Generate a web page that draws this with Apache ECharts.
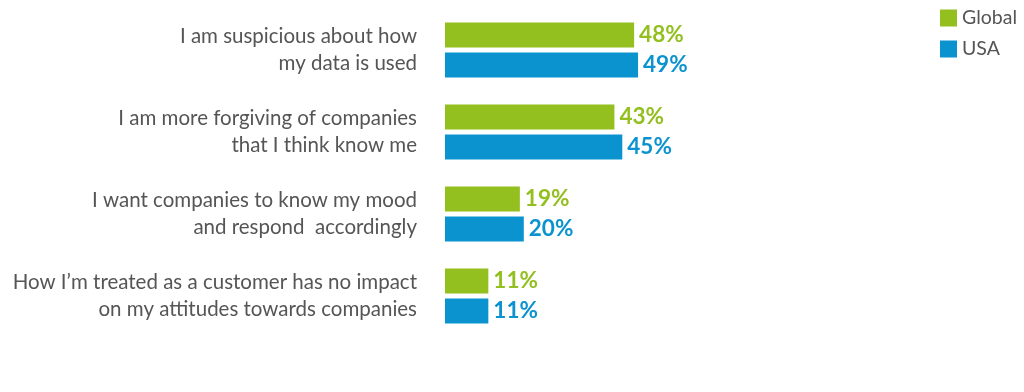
<!DOCTYPE html>
<html><head><meta charset="utf-8">
<script src="https://cdn.jsdelivr.net/npm/echarts@6/dist/echarts.min.js"></script>
<style>html,body{margin:0;padding:0;background:#fff}#c{width:1024px;height:392px}</style>
</head><body><div id="c"></div>
<script>
const categories = [
  "I am suspicious about how\nmy data is used",
  "I am more forgiving of companies\nthat I think know me",
  "I want companies to know my mood\nand respond  accordingly",
  "How I\u2019m treated as a customer has no impact\non my attitudes towards companies"
];
const globalValues = [48, 43, 19, 11];
const usaValues = [49, 45, 20, 11];
const seriesNames = ["Global", "USA"];
const GREEN = "#93bf1f", BLUE = "#0b93cf";
const chart = echarts.init(document.getElementById('c'));
function lbl(color){return {show:true,position:'right',distance:5,formatter:'{c}%',color:color,fontFamily:'Lato',fontWeight:'bold',fontSize:22.5};}
chart.setOption({
  animation:false,
  legend:{orient:'vertical',left:935,top:3,itemWidth:17,itemHeight:17,itemGap:11,icon:'rect',
    textStyle:{fontFamily:'Lato',fontSize:19.5,color:'#555'},data:seriesNames},
  grid:{left:445,width:394,top:9,bottom:55,containLabel:false},
  xAxis:{type:'value',min:0,max:100,show:false},
  yAxis:{type:'category',inverse:true,data:categories,axisLine:{show:false},axisTick:{show:false},
    axisLabel:{margin:28,fontFamily:'Lato',fontSize:20.5,color:'#555',lineHeight:27,align:'right'}},
  series:[
    {name:seriesNames[0],type:'bar',data:globalValues,barWidth:25,barGap:'20%',itemStyle:{color:GREEN},label:lbl(GREEN)},
    {name:seriesNames[1],type:'bar',data:usaValues,barWidth:25,barGap:'20%',itemStyle:{color:BLUE},label:lbl(BLUE)}
  ]
});
</script></body></html>
